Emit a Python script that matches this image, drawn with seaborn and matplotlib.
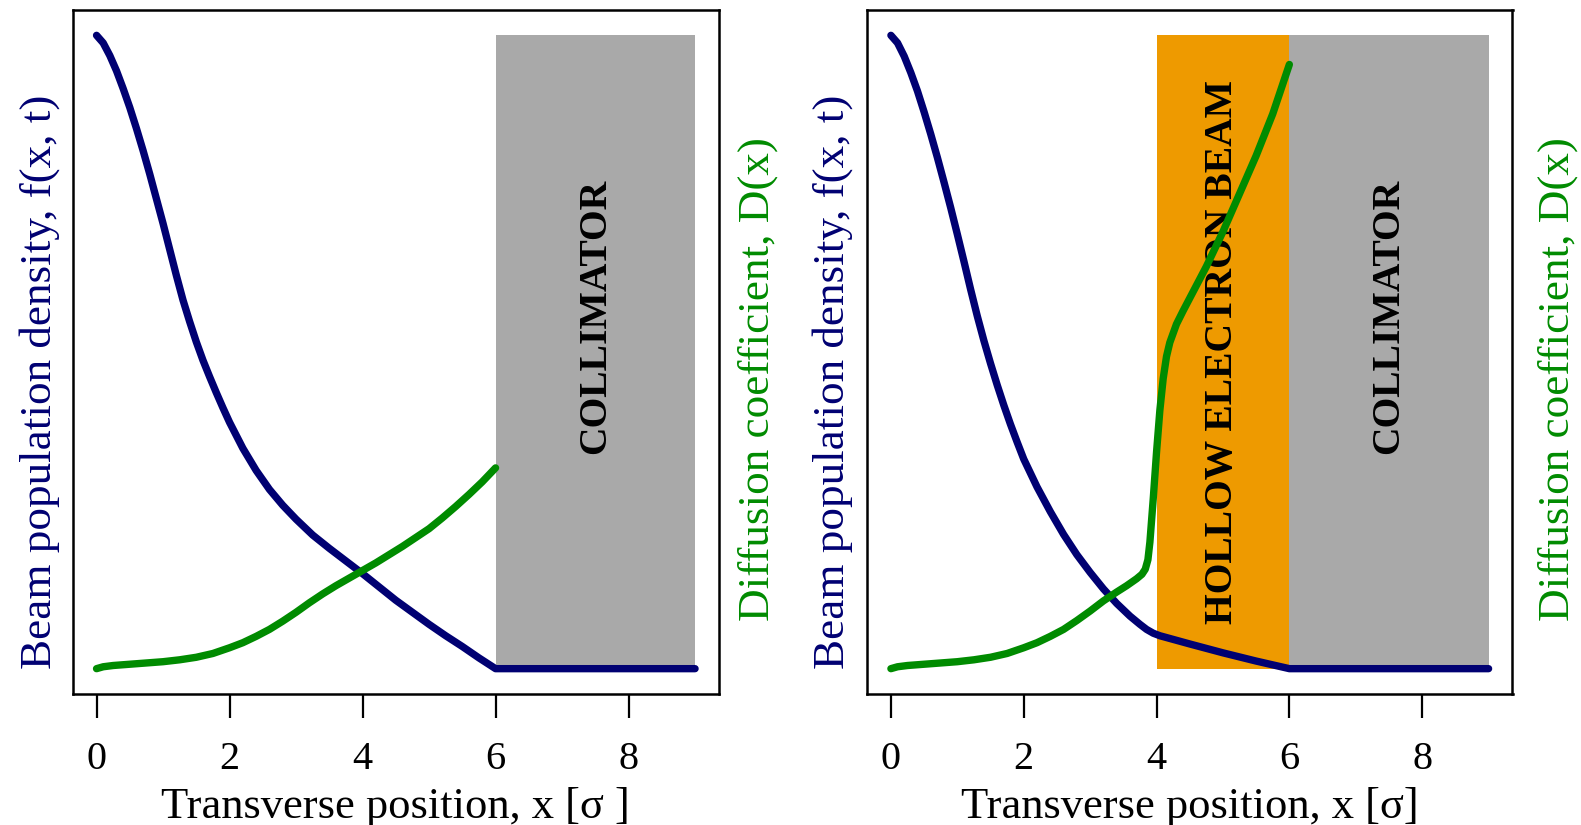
import matplotlib
matplotlib.use("Agg")
import matplotlib.pyplot as plt
import seaborn as sns
import pandas as pd

sns.set_theme(style="white")
plt.rcParams["font.family"] = ["Liberation Serif", "DejaVu Serif"]
plt.rcParams["text.color"] = "black"
plt.rcParams["axes.labelcolor"] = "black"
plt.rcParams["xtick.color"] = "black"

# ---- data -------------------------------------------------------------
# Left panel: collimator only
x_f_left = [0.0, 0.1, 0.2, 0.3, 0.4, 0.5, 0.6, 0.7, 0.8, 0.9, 1.0, 1.1, 1.2,
            1.3, 1.4, 1.5, 1.6, 1.7, 1.8, 1.9, 2.0, 2.2, 2.4, 2.6, 2.8, 3.0,
            3.25, 3.5, 3.75, 4.0, 4.25, 4.5, 4.75, 5.0, 5.25, 5.5, 5.75, 6.0, 9.0]
f_left = [1.000, 0.988, 0.968, 0.944, 0.916, 0.886, 0.853, 0.818, 0.781, 0.742,
          0.703, 0.662, 0.621, 0.582, 0.548, 0.516, 0.487, 0.461, 0.436, 0.412,
          0.389, 0.348, 0.313, 0.283, 0.258, 0.236, 0.211, 0.190, 0.170, 0.150,
          0.129, 0.108, 0.089, 0.070, 0.052, 0.035, 0.017, 0.000, 0.000]

x_d_left = [0.0, 0.1, 0.25, 0.5, 0.75, 1.0, 1.25, 1.5, 1.75, 2.0, 2.2, 2.4, 2.6,
            2.8, 3.0, 3.2, 3.4, 3.6, 3.8, 4.0, 4.2, 4.4, 4.6, 4.8, 5.0, 5.2,
            5.4, 5.6, 5.8, 6.0]
d_left = [0.000, 0.003, 0.005, 0.007, 0.009, 0.011, 0.014, 0.018, 0.024, 0.033,
          0.041, 0.051, 0.062, 0.075, 0.089, 0.104, 0.118, 0.131, 0.143, 0.155,
          0.167, 0.180, 0.193, 0.207, 0.221, 0.238, 0.256, 0.275, 0.295, 0.317]

# Right panel: hollow electron beam + collimator
x_f_right = [0.0, 0.1, 0.2, 0.3, 0.4, 0.5, 0.6, 0.7, 0.8, 0.9, 1.0, 1.1, 1.2,
             1.3, 1.4, 1.5, 1.6, 1.7, 1.8, 1.9, 2.0, 2.2, 2.4, 2.6, 2.8, 3.0,
             3.2, 3.4, 3.6, 3.75, 3.85, 3.95, 4.05, 4.5, 5.0, 5.5, 6.0, 9.0]
f_right = [1.000, 0.988, 0.967, 0.941, 0.912, 0.879, 0.844, 0.807, 0.768, 0.728,
           0.686, 0.643, 0.599, 0.557, 0.518, 0.482, 0.448, 0.416, 0.386, 0.358,
           0.331, 0.287, 0.248, 0.212, 0.180, 0.152, 0.126, 0.103, 0.083, 0.070,
           0.062, 0.056, 0.052, 0.039, 0.025, 0.012, 0.000, 0.000]

x_d_right = [0.0, 0.1, 0.25, 0.5, 0.75, 1.0, 1.25, 1.5, 1.75, 2.0, 2.2, 2.4, 2.6,
             2.8, 3.0, 3.2, 3.4, 3.55, 3.7, 3.78, 3.83, 3.87, 3.9, 3.95, 4.0,
             4.05, 4.1, 4.15, 4.2, 4.3, 4.4, 4.5, 4.75, 5.0, 5.25, 5.5, 5.75, 6.0]
d_right = [0.000, 0.003, 0.005, 0.007, 0.009, 0.011, 0.014, 0.018, 0.024, 0.033,
           0.041, 0.051, 0.062, 0.076, 0.091, 0.107, 0.121, 0.131, 0.142, 0.149,
           0.157, 0.172, 0.200, 0.268, 0.342, 0.408, 0.458, 0.493, 0.515, 0.544,
           0.565, 0.585, 0.635, 0.690, 0.750, 0.810, 0.876, 0.954]

x_ticks = [0, 2, 4, 6, 8]
tick_labels = ["0", "2", "4", "6", "8"]

# shaded regions: (x start, x end, colour, label, label y)
collimator = (6.0, 9.0, "#A9A9A9", "COLLIMATOR", 0.557)
hollow_beam = (4.0, 6.0, "#EE9A00", "HOLLOW ELECTRON BEAM", 0.50)

xlabels = ["Transverse position, x [\u03c3 ]", "Transverse position, x [\u03c3]"]
f_label = "Beam population density, f(x, t)"
d_label = "Diffusion coefficient, D(x)"

NAVY = "#000072"
GREEN = "#008B00"

# ---- figure -----------------------------------------------------------
W, H, DPI = 1581, 825, 100
fig = plt.figure(figsize=(W / DPI, H / DPI), dpi=DPI)

def px_axes(left, right, top, bottom):
    return fig.add_axes([left / W, 1 - bottom / H, (right - left) / W, (bottom - top) / H])

ax_l = px_axes(72.6, 719, 10, 694)
ax_r = px_axes(867, 1512.5, 10, 694)

panels = [
    (ax_l, [collimator], x_f_left, f_left, x_d_left, d_left, xlabels[0]),
    (ax_r, [hollow_beam, collimator], x_f_right, f_right, x_d_right, d_right, xlabels[1]),
]

for ax, regions, xf, fv, xd, dv, xlab in panels:
    for x0, x1, col, txt, ty in regions:
        ax.fill_between([x0, x1], 0, 1, color=col, lw=0, zorder=1)
        ax.text((x0 + x1) / 2, ty, txt, rotation=90, ha="center", va="center",
                fontsize=28.5, fontweight="bold", color="black", zorder=2)
    df_f = pd.DataFrame({"x": xf, "y": fv})
    df_d = pd.DataFrame({"x": xd, "y": dv})
    sns.lineplot(data=df_f, x="x", y="y", ax=ax, color=NAVY, lw=5.3, sort=False,
                 solid_capstyle="round", solid_joinstyle="round", zorder=3)
    sns.lineplot(data=df_d, x="x", y="y", ax=ax, color=GREEN, lw=5.3, sort=False,
                 solid_capstyle="round", solid_joinstyle="round", zorder=3)

    ax.set_xlim(-0.36, 9.36)
    ax.set_ylim(-0.04, 1.04)
    ax.set_xticks(x_ticks)
    ax.set_xticklabels(tick_labels, fontsize=29)
    ax.set_yticks([])
    ax.set_ylabel("")
    ax.set_xlabel(xlab, fontsize=32, labelpad=6)
    ax.tick_params(axis="x", direction="out", length=17, width=1.6, pad=17,
                   colors="black", bottom=True)
    for sp in ax.spines.values():
        sp.set_visible(True)
        sp.set_color("black")
        sp.set_linewidth(1.8)

# vertical axis titles
def vlabel(xpx, ypx, txt, col):
    fig.text(xpx / W, 1 - ypx / H, txt, rotation=90, ha="center", va="center",
             fontsize=32.5, color=col)

vlabel(40, 382, f_label, NAVY)
vlabel(758, 379, d_label, GREEN)
vlabel(833, 382, f_label, NAVY)
vlabel(1558, 379, d_label, GREEN)

fig.savefig("out.png", dpi=DPI, facecolor="white")
